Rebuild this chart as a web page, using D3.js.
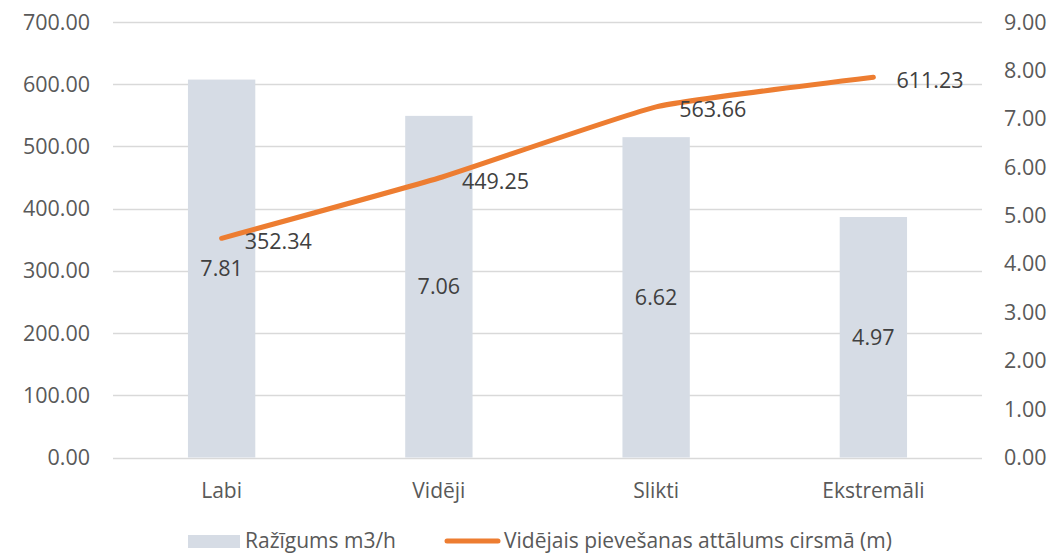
<!DOCTYPE html>
<html>
<head>
<meta charset="utf-8">
<script src="https://cdn.jsdelivr.net/npm/d3@7"></script>
<style>
  body { margin: 0; background: #fff; }
  text { font-family: "Open Sans", sans-serif; }
</style>
</head>
<body>
<svg id="chart" width="1064" height="555"></svg>
<script>
// categories and series
const categories = ['Labi', 'Vidēji', 'Slikti', 'Ekstremāli'];
const productivity = [7.81, 7.06, 6.62, 4.97];          // bars, right axis
const distance = [352.34, 449.25, 563.66, 611.23];      // line, left axis
const leftTicks = [0, 100, 200, 300, 400, 500, 600, 700];
const rightTicks = [0, 1, 2, 3, 4, 5, 6, 7, 8, 9];
const seriesNames = ['Ražīgums m3/h', 'Vidējais pievešanas attālums cirsmā (m)'];

const svg = d3.select('#chart');
const plot = { left: 113, right: 982, top: 22, bottom: 457.5 };

const x = d3.scaleBand()
  .domain(categories)
  .range([plot.left, plot.right])
  .paddingInner(0.69)
  .paddingOuter(0.345);

const yLeft = d3.scaleLinear().domain([0, 700]).range([plot.bottom, plot.top]);
const yRight = d3.scaleLinear().domain([0, 9]).range([plot.bottom, plot.top]);

const numSize = 21.5; // tick + data labels
const txtSize = 21;   // categories + legend
const axisColor = '#595959';
const labelColor = '#404040';

// gridlines
svg.append('g')
  .selectAll('line')
  .data(leftTicks)
  .join('line')
  .attr('x1', plot.left)
  .attr('x2', plot.right)
  .attr('y1', d => Math.round(yLeft(d)) + 0.5)
  .attr('y2', d => Math.round(yLeft(d)) + 0.5)
  .attr('stroke', '#d9d9d9')
  .attr('stroke-width', 1.5);

// left axis labels
svg.append('g')
  .selectAll('text')
  .data(leftTicks)
  .join('text')
  .attr('x', 90)
  .attr('y', d => yLeft(d))
  .attr('dy', '0.35em')
  .attr('text-anchor', 'end')
  .attr('fill', axisColor)
  .style('font-size', numSize + 'px')
  .text(d => d.toFixed(2));

// right axis labels
svg.append('g')
  .selectAll('text')
  .data(rightTicks)
  .join('text')
  .attr('x', 1004)
  .attr('y', d => yRight(d))
  .attr('dy', '0.35em')
  .attr('text-anchor', 'start')
  .attr('fill', axisColor)
  .style('font-size', numSize + 'px')
  .text(d => d.toFixed(2));

// category labels
svg.append('g')
  .selectAll('text')
  .data(categories)
  .join('text')
  .attr('x', d => x(d) + x.bandwidth() / 2)
  .attr('y', 491)
  .attr('dy', '0.35em')
  .attr('text-anchor', 'middle')
  .attr('fill', axisColor)
  .style('font-size', txtSize + 'px')
  .text(d => d);

// bars
svg.append('g')
  .selectAll('rect')
  .data(productivity)
  .join('rect')
  .attr('x', (d, i) => x(categories[i]))
  .attr('y', d => yRight(d))
  .attr('width', x.bandwidth())
  .attr('height', d => plot.bottom - yRight(d))
  .attr('fill', '#d6dce5');

// bar labels, centred in the bar
svg.append('g')
  .selectAll('text')
  .data(productivity)
  .join('text')
  .attr('x', (d, i) => x(categories[i]) + x.bandwidth() / 2)
  .attr('y', d => (yRight(d) + plot.bottom) / 2)
  .attr('dy', '0.35em')
  .attr('text-anchor', 'middle')
  .attr('fill', labelColor)
  .style('font-size', numSize + 'px')
  .text(d => d.toFixed(2));

// line (lightly smoothed, like Excel)
const line = d3.line()
  .x((d, i) => x(categories[i]) + x.bandwidth() / 2)
  .y(d => yLeft(d))
  .curve(d3.curveCardinal.tension(0.6));

svg.append('path')
  .datum(distance)
  .attr('d', line)
  .attr('fill', 'none')
  .attr('stroke', '#ed7d31')
  .attr('stroke-width', 5)
  .attr('stroke-linecap', 'round')
  .attr('stroke-linejoin', 'round');

// line labels, to the right of each point
svg.append('g')
  .selectAll('text')
  .data(distance)
  .join('text')
  .attr('x', (d, i) => x(categories[i]) + x.bandwidth() / 2 + 23)
  .attr('y', d => yLeft(d) + 3)
  .attr('dy', '0.35em')
  .attr('text-anchor', 'start')
  .attr('fill', labelColor)
  .style('font-size', numSize + 'px')
  .text(d => d.toFixed(2));

// legend
const legend = svg.append('g');
legend.append('rect')
  .attr('x', 188).attr('y', 535)
  .attr('width', 52).attr('height', 13)
  .attr('fill', '#d6dce5');
legend.append('text')
  .attr('x', 245).attr('y', 541)
  .attr('dy', '0.35em')
  .attr('fill', axisColor)
  .style('font-size', txtSize + 'px')
  .text(seriesNames[0]);
legend.append('line')
  .attr('x1', 447).attr('x2', 498)
  .attr('y1', 541).attr('y2', 541)
  .attr('stroke', '#ed7d31')
  .attr('stroke-width', 5)
  .attr('stroke-linecap', 'round');
legend.append('text')
  .attr('x', 504).attr('y', 541)
  .attr('dy', '0.35em')
  .attr('fill', axisColor)
  .style('font-size', txtSize + 'px')
  .text(seriesNames[1]);
</script>
</body>
</html>
